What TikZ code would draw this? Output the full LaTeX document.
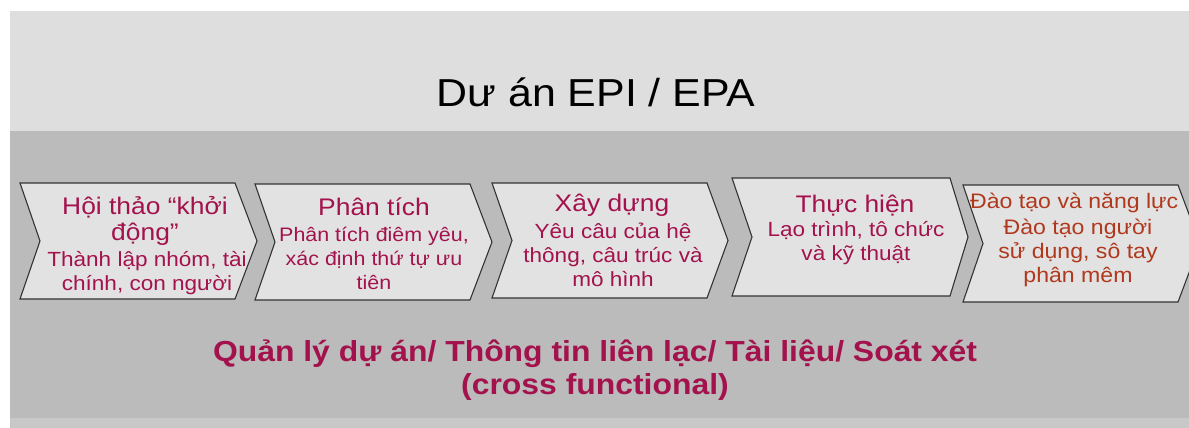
\documentclass[tikz,border=0pt]{standalone}
\usepackage{fontspec}
\setmainfont[FakeStretch=1.1]{Liberation Sans}
\definecolor{lightpanel}{HTML}{DEDEDE}
\definecolor{darkpanel}{HTML}{BBBBBB}
\definecolor{bottomstrip}{HTML}{C8C8C8}
\definecolor{chevfill}{HTML}{E2E2E2}
\definecolor{crimson}{HTML}{A3124C}
\definecolor{rust}{HTML}{B0381C}
\tikzset{
  chev/.style={fill=chevfill, draw=black!80, line width=1.1pt, line join=miter},
  ttl/.style={text=crimson, font=\fontsize{24}{26}\selectfont, align=center, inner sep=0pt},
  sub/.style={text=crimson, font=\fontsize{20.5}{24}\selectfont, align=center, inner sep=0pt},
  subs/.style={text=crimson, font=\fontsize{19.5}{24}\selectfont, align=center, inner sep=0pt},
  subr/.style={text=rust, font=\fontsize{21}{24}\selectfont, align=center, inner sep=0pt},
}
\newcommand{\chevron}[5]{% left, right, tip, top, bottom
  \path[chev] (#1,#4) -- (#2,#4) -- (#3,{(#4+#5)/2}) -- (#2,#5) -- (#1,#5) -- ({#1+20},{(#4+#5)/2}) -- cycle;}
\begin{document}
\begin{tikzpicture}[x=1pt,y=-1pt]
\useasboundingbox (0,0) rectangle (1189,428);
\begin{scope}
\clip (0,0) rectangle (1189,428);
\fill[white] (0,0) rectangle (1189,428);
\fill[lightpanel] (10,11) rectangle (1189,131);
\fill[darkpanel] (10,131) rectangle (1189,418);
\fill[bottomstrip] (10,418) rectangle (1189,428);
\node[font=\fontsize{39}{42}\selectfont, inner sep=0pt] (title) at (596,92) {Dư án EPI / EPA};
\chevron{20}{235}{257}{183}{299}
\chevron{255}{470}{492}{184}{300}
\chevron{492}{707}{728}{183}{298}
\chevron{732}{950}{968}{178}{296}
\chevron{963}{1178}{1200}{185}{302}
% box 1
\node[ttl] (t1) at (145,221) {Hội thảo “khởi\\động”};
\node[sub] (s1) at (147,273) {Thành lập nhóm, tài\\chính, con người};
% box 2
\node[ttl] (t2) at (374,207) {Phân tích};
\node[subs] (s2) at (374,258) {Phân tích điêm yêu,\\xác định thứ tự ưu\\tiên};
% box 3
\node[ttl] (t3) at (612,205) {Xây dựng};
\node[sub] (s3) at (613,255) {Yêu câu của hệ\\thông, câu trúc và\\mô hình};
% box 4
\node[ttl] (t4) at (855,206) {Thực hiện};
\node[sub] (s4) at (856,243) {Lạo trình, tô chức\\và kỹ thuật};
% box 5
\node[subr, anchor=west] (t5) at (970,203) {Đào tạo và năng lực};
\node[subr] (s5) at (1078,253) {Đào tạo người\\sử dụng, sô tay\\phân mêm};
% bottom
\node[text=crimson, font=\bfseries\fontsize{29}{33}\selectfont, align=center, inner sep=0pt] (bottom) at (595,370) {Quản lý dự án/ Thông tin liên lạc/ Tài liệu/ Soát xét\\(cross functional)};
\end{scope}
\end{tikzpicture}
\end{document}
